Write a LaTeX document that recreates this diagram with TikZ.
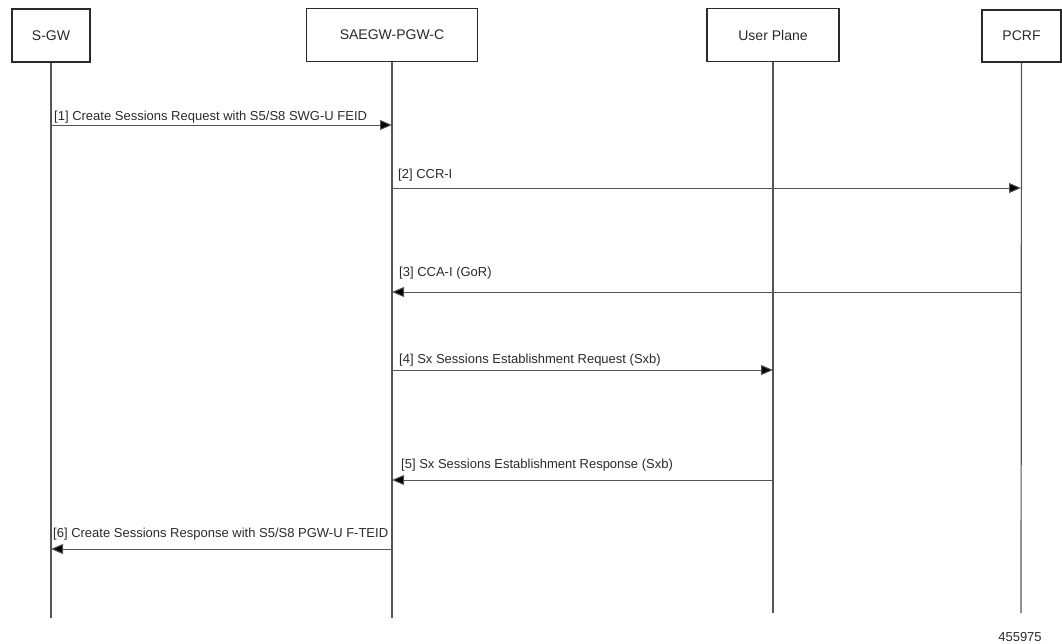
\documentclass[tikz,border=0pt]{standalone}
\usepackage{fontspec}
\setmainfont{Liberation Sans}
\usetikzlibrary{arrows.meta}
\definecolor{lineg}{HTML}{555555}
\definecolor{txtg}{HTML}{2a2a2a}
\tikzset{
  actor/.style={draw=txtg, line width=1.3pt, fill=white, inner sep=0pt, text=txtg, font=\fontsize{14}{16}\selectfont},
  life/.style={draw=lineg, line width=1.2pt},
  msg/.style={draw=lineg, line width=1pt, -{Triangle[length=12pt,width=10pt,fill=black]}},
  lbl/.style={anchor=base west, inner sep=0pt, text=txtg, font=\fontsize{13}{15}\selectfont},
}
\begin{document}
\begin{tikzpicture}[x=1pt,y=-1pt]
\useasboundingbox (0,0) rectangle (1062,643);
% actors
\node[actor, minimum width=78pt, minimum height=53pt] (sgw) at (51,35.5) {S-GW};
\node[actor, minimum width=171pt, minimum height=53pt] (pgw) at (392,35) {SAEGW-PGW-C};
\node[actor, minimum width=132pt, minimum height=53pt] (up) at (773,35) {User Plane};
\node[actor, minimum width=79pt, minimum height=52pt] (pcrf) at (1021.5,36) {PCRF};
% lifeline ends
\coordinate (sgwE) at (51,618);
\coordinate (pgwE) at (392,618);
\coordinate (upE) at (773,613);
\coordinate (pcrfE) at (1021,613);
\draw[life] (sgw.south) -- (sgwE);
\draw[life] (pgw.south) -- (pgwE);
\draw[life] (up.south) -- (upE);
\draw[life] (pcrf.south) -- (pcrfE);
% message points
\coordinate (m1a) at (51,125);  \coordinate (m1b) at (392,125);
\coordinate (m2a) at (392,188); \coordinate (m2b) at (1021,188);
\coordinate (m3a) at (1021,292);\coordinate (m3b) at (392,292);
\coordinate (m4a) at (392,370); \coordinate (m4b) at (773,370);
\coordinate (m5a) at (773,480); \coordinate (m5b) at (392,480);
\coordinate (m6a) at (392,549); \coordinate (m6b) at (51,549);
\draw[msg] (m1a) -- (m1b);
\draw[msg] (m2a) -- (m2b);
\draw[msg] (m3a) -- (m3b);
\draw[msg] (m4a) -- (m4b);
\draw[msg] (m5a) -- (m5b);
\draw[msg] (m6a) -- (m6b);
% labels
\node[lbl] (l1) at (54,120) {[1] Create Sessions Request with S5/S8 SWG-U FEID};
\node[lbl] (l2) at (398,178) {[2] CCR-I};
\node[lbl] (l3) at (399,276) {[3] CCA-I (GoR)};
\node[lbl] (l4) at (399,363) {[4] Sx Sessions Establishment Request (Sxb)};
\node[lbl] (l5) at (401,468) {[5] Sx Sessions Establishment Response (Sxb)};
\node[lbl] (l6) at (53,537) {[6] Create Sessions Response with S5/S8 PGW-U F-TEID};
\node[anchor=base, inner sep=0pt, text=txtg, font=\fontsize{13}{15}\selectfont] (id) at (1020,641) {455975};
\end{tikzpicture}
\end{document}
